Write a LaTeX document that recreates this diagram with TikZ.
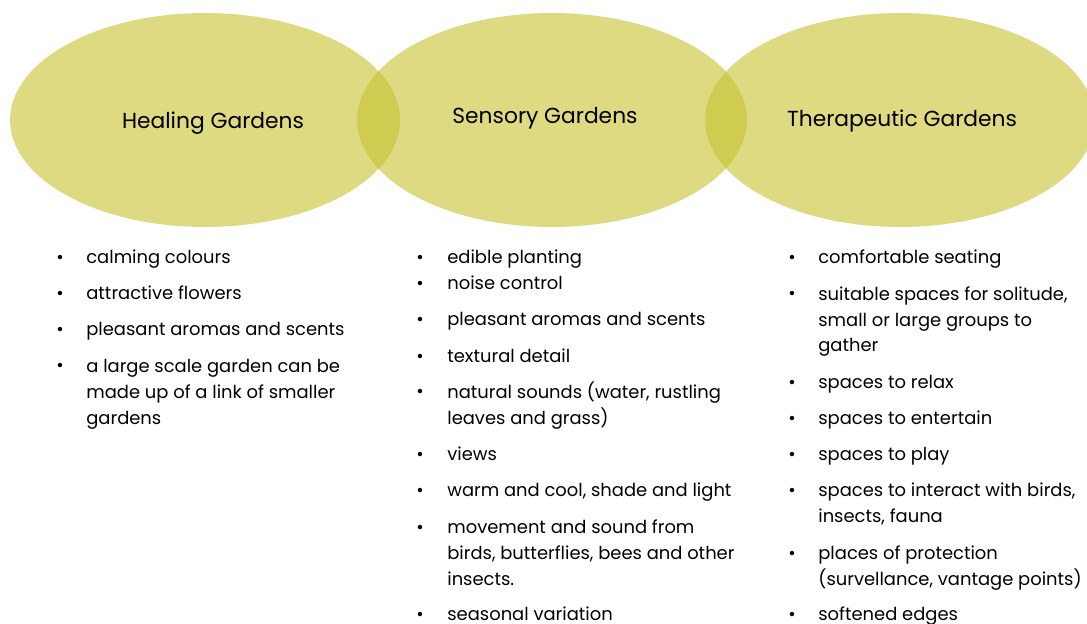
\documentclass[tikz,border=0pt]{standalone}
\usepackage{fontspec}
\setmainfont{Poppins}
\usetikzlibrary{positioning,shapes.geometric}
\definecolor{khaki}{RGB}{200,195,52}

\tikzset{
  garden/.style={ellipse,fill=khaki,fill opacity=0.62,minimum width=7.8cm,minimum height=4.28cm,inner sep=0pt},
  gtitle/.style={font=\fontsize{12.4}{15}\selectfont},
  bul/.style={anchor=base,font=\fontsize{10.2}{14.7}\selectfont,inner sep=0pt},
  % anchored at the baseline of the last line
  item/.style={anchor=base west,align=left,font=\fontsize{10.2}{14.7}\selectfont,inner sep=0pt}
}

\begin{document}
\begin{tikzpicture}[x=0.02cm,y=-0.02cm]
\useasboundingbox (0,0) rectangle (1087,624);
% the three gardens
\node[garden] (heal) at (205,120) {};
\node[garden] (sens) at (552,120) {};
\node[garden] (ther) at (900,120) {};
\node[gtitle] (healT) at (213,123) {Healing Gardens};
\node[gtitle] (sensT) at (545,118) {Sensory Gardens};
\node[gtitle] (therT) at (902,121) {Therapeutic Gardens};
% healing
\node[bul] (h1b) at (60,264) {\textbullet};\node[item] (h1) at (86,264) {calming colours};
\node[bul] (h2b) at (60,300) {\textbullet};\node[item] (h2) at (86,300) {attractive flowers};
\node[bul] (h3b) at (60,336) {\textbullet};\node[item] (h3) at (86,336) {pleasant aromas and scents};
\node[bul] (h4b) at (60,372) {\textbullet};\node[item] (h4) at (86,424) {a large scale garden can be\\made up of a link of smaller\\gardens};
% sensory
\node[bul] (s1b) at (420,264) {\textbullet};\node[item] (s1) at (447,264) {edible planting};
\node[bul] (s2b) at (420,290) {\textbullet};\node[item] (s2) at (447,290) {noise control};
\node[bul] (s3b) at (420,326) {\textbullet};\node[item] (s3) at (447,326) {pleasant aromas and scents};
\node[bul] (s4b) at (420,362) {\textbullet};\node[item] (s4) at (447,362) {textural detail};
\node[bul] (s5b) at (420,398) {\textbullet};\node[item] (s5) at (447,424) {natural sounds (water, rustling\\leaves and grass)};
\node[bul] (s6b) at (420,460) {\textbullet};\node[item] (s6) at (447,460) {views};
\node[bul] (s7b) at (420,496) {\textbullet};\node[item] (s7) at (447,496) {warm and cool, shade and light};
\node[bul] (s8b) at (420,533) {\textbullet};\node[item] (s8) at (447,585) {movement and sound from\\birds, butterflies, bees and other\\insects.};
\node[bul] (s9b) at (420,620) {\textbullet};\node[item] (s9) at (447,620) {seasonal variation};
% therapeutic
\node[bul] (t1b) at (792,264) {\textbullet};\node[item] (t1) at (818,264) {comfortable seating};
\node[bul] (t2b) at (792,300) {\textbullet};\node[item] (t2) at (818,352) {suitable spaces for solitude,\\small or large groups to\\gather};
\node[bul] (t3b) at (792,388) {\textbullet};\node[item] (t3) at (818,388) {spaces to relax};
\node[bul] (t4b) at (792,424) {\textbullet};\node[item] (t4) at (818,424) {spaces to entertain};
\node[bul] (t5b) at (792,460) {\textbullet};\node[item] (t5) at (818,460) {spaces to play};
\node[bul] (t6b) at (792,496) {\textbullet};\node[item] (t6) at (818,522) {spaces to interact with birds,\\insects, fauna};
\node[bul] (t7b) at (792,559) {\textbullet};\node[item] (t7) at (818,585) {places of protection\\(survellance, vantage points)};
\node[bul] (t8b) at (792,620) {\textbullet};\node[item] (t8) at (818,620) {softened edges};
\end{tikzpicture}
\end{document}
